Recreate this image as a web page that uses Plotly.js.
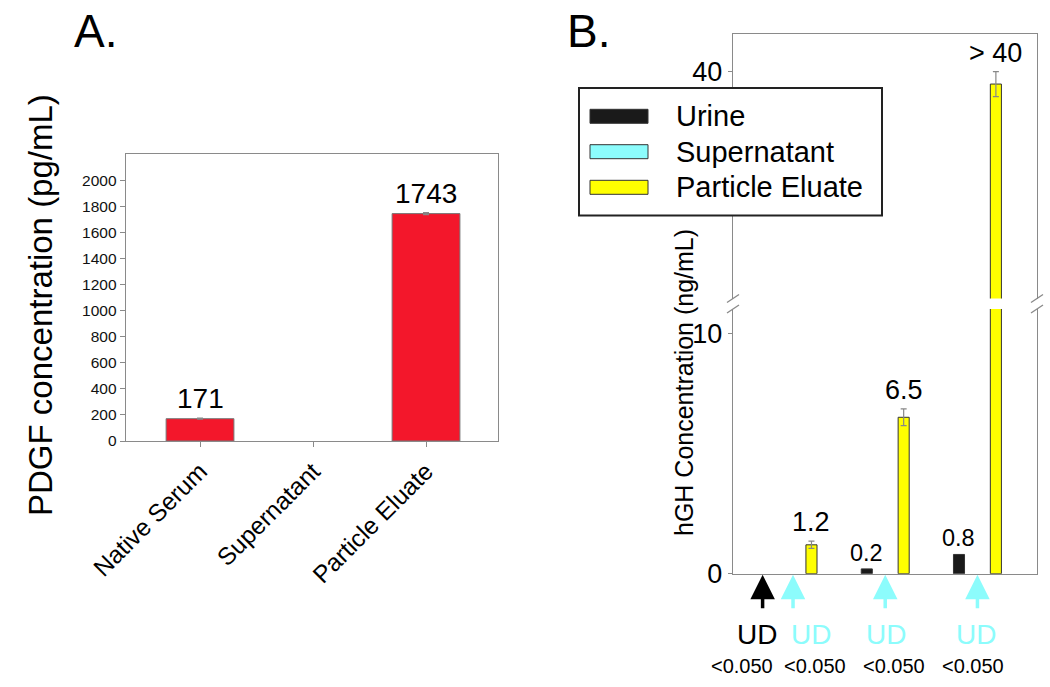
<!DOCTYPE html>
<html><head><meta charset="utf-8">
<script src="https://cdn.plot.ly/plotly-3.0.1.min.js"></script>
<style>body{margin:0;background:#fff}#c{width:1050px;height:687px}</style>
</head><body><div id="c"></div>
<script>
// ---- Panel A data ----
const catsA = ['Native Serum', 'Supernatant', 'Particle Eluate'];
const pdgf = [171, null, 1743];
const pdgfErr = [4, 0, 8];
const pdgfLabels = ['171', '', '1743'];
const ticksA = [0, 200, 400, 600, 800, 1000, 1200, 1400, 1600, 1800, 2000];

// ---- Panel B data ----
const groupsB = [1, 2, 3];
const seriesNames = ['Urine', 'Supernatant', 'Particle Eluate'];
const seriesColors = ['#1a1a1a', '#8cfcfc', '#ffff00'];
const urine = [null, 0.2, 0.8];       // UD in group 1
const supern = [null, null, null];    // UD in all groups
const eluate = [1.2, 6.5, 38.5];
const eluateErr = [0.15, 0.35, 1.5];
const urineLabels = ['', '0.2', '0.8'];
const eluateLabels = ['1.2', '6.5', '> 40'];
const udLabels = ['UD', 'UD', 'UD', 'UD'];
const udColors = ['#000000', '#8cfcfc', '#8cfcfc', '#8cfcfc'];
const udX = [0.61, 1.19, 2.01, 2.985];
const limitLabels = ['<0.050', '<0.050', '<0.050', '<0.050'];
const limitX = [0.45, 1.24, 2.1, 2.95];
const arrowX = [0.67, 1, 2, 3];
const arrowColors = ['#000000', '#8cfcfc', '#8cfcfc', '#8cfcfc'];

const W = 1050, H = 687;
const px = x => x / W, py = y => 1 - y / H;
const FONT = 'Liberation Sans, Arial, sans-serif';
const axisGray = '#8a8a8a';

const traces = [];
traces.push({
  type: 'bar', x: catsA, y: pdgf, width: 0.6, xaxis: 'x', yaxis: 'y',
  marker: {color: '#f3172b', line: {color: '#777', width: 1}},
  error_y: {type: 'data', array: pdgfErr, color: '#888', thickness: 1.2, width: 3},
  showlegend: false, hoverinfo: 'skip'
});
const bSeries = [urine, supern, eluate];
const bErr = [null, null, eluateErr];
['y2', 'y3'].forEach((ya, k) => {
  bSeries.forEach((vals, i) => {
    traces.push({
      type: 'bar', x: groupsB, y: vals, xaxis: k === 0 ? 'x2' : 'x3', yaxis: ya,
      name: seriesNames[i],
      marker: {color: seriesColors[i], line: {color: '#333', width: 1}},
      error_y: bErr[i] ? {type: 'data', array: bErr[i], color: '#888', thickness: 1.2, width: 3} : {visible: false},
      showlegend: false, hoverinfo: 'skip'
    });
  });
});

const ann = (o) => Object.assign({showarrow: false, xanchor: 'center', yanchor: 'middle'}, o);
const annotations = [];
annotations.push(ann({text: 'A.', x: px(95), y: py(31), xref: 'paper', yref: 'paper', font: {size: 46, color: '#000', family: FONT}}));
annotations.push(ann({text: 'B.', x: px(588), y: py(31), xref: 'paper', yref: 'paper', font: {size: 46, color: '#000', family: FONT}}));
annotations.push(ann({text: 'PDGF concentration (pg/mL)', textangle: -90, x: px(40), y: py(305), xref: 'paper', yref: 'paper', font: {size: 33, color: '#000', family: FONT}}));
annotations.push(ann({text: 'hGH Concentration (ng/mL)', textangle: -90, x: px(684), y: py(383), xref: 'paper', yref: 'paper', font: {size: 25, color: '#000', family: FONT}}));

catsA.forEach((c, i) => {
  if (!pdgfLabels[i]) return;
  annotations.push(ann({text: pdgfLabels[i], x: c, y: pdgf[i] + pdgfErr[i], xref: 'x', yref: 'y', yanchor: 'bottom', yshift: 2, font: {size: 28, color: '#000', family: FONT}}));
});
const offs = [-0.2, 0, 0.2];
groupsB.forEach((g, i) => {
  if (urineLabels[i]) annotations.push(ann({text: urineLabels[i], x: g + offs[0], y: urine[i], xref: 'x2', yref: 'y2', yanchor: 'bottom', yshift: 1, font: {size: 23.5, color: '#000', family: FONT}}));
  const big = eluate[i] > 11;
  annotations.push(ann({text: eluateLabels[i], x: g + offs[2], y: eluate[i] + eluateErr[i], xref: big ? 'x3' : 'x2', yref: big ? 'y3' : 'y2', yanchor: 'bottom', yshift: 2, font: {size: 27, color: '#000', family: FONT}}));
});
arrowX.forEach((x, i) => {
  annotations.push({text: '', x: x, y: 0, xref: 'x2', yref: 'y2', ax: 0, ay: 36, showarrow: true, arrowhead: 2, arrowsize: 1.4, arrowwidth: 3.5, arrowcolor: arrowColors[i], standoff: 1});
});
udLabels.forEach((t, i) => {
  annotations.push(ann({text: t, x: udX[i], y: py(634), xref: 'x2', yref: 'paper', font: {size: 28, color: udColors[i], family: FONT}}));
});
limitLabels.forEach((t, i) => {
  annotations.push(ann({text: t, x: limitX[i], y: py(666), xref: 'x2', yref: 'paper', font: {size: 20, color: '#000', family: FONT}}));
});

// custom legend
const shapes = [];
shapes.push({type: 'rect', xref: 'paper', yref: 'paper', x0: px(579), x1: px(882), y0: py(215.5), y1: py(88), fillcolor: '#fff', line: {color: '#222', width: 2}, layer: 'above'});
const rowY = [116.3, 151.7, 187.3];
seriesNames.forEach((n, i) => {
  shapes.push({type: 'rect', xref: 'paper', yref: 'paper', x0: px(590), x1: px(648), y0: py(rowY[i] + 7), y1: py(rowY[i] - 7), fillcolor: seriesColors[i], line: {color: '#333', width: 1}, layer: 'above'});
  annotations.push(ann({text: n, x: px(674), y: py(rowY[i]), xref: 'paper', yref: 'paper', xanchor: 'left', font: {size: 29, color: '#000', family: FONT}}));
});
// axis break marks
[733, 1037].forEach(x => {
  [298.5, 309].forEach(y => {
    shapes.push({type: 'line', xref: 'paper', yref: 'paper', x0: px(x - 6), y0: py(y + 4), x1: px(x + 6), y1: py(y - 4), line: {color: axisGray, width: 1.3}, layer: 'above'});
  });
});

const layout = {
  width: W, height: H, margin: {l: 0, r: 0, t: 0, b: 0},
  paper_bgcolor: '#fff', plot_bgcolor: '#fff',
  font: {family: FONT, color: '#000'},
  barmode: 'group', bargap: 0.4, bargroupgap: 0.4, showlegend: false,
  xaxis: {domain: [px(126), px(498)], anchor: 'y', type: 'category', range: [-0.655, 2.637],
    showline: true, linecolor: axisGray, linewidth: 1.3, mirror: true,
    ticks: 'outside', ticklen: 5, tickcolor: axisGray, tickangle: -45, tickfont: {size: 24.5, color: '#000'}, showgrid: false, zeroline: false},
  yaxis: {domain: [py(441), py(154)], anchor: 'x', range: [0, 2200], tickvals: ticksA,
    showline: true, linecolor: axisGray, linewidth: 1.3, mirror: true,
    ticks: 'outside', ticklen: 5, tickcolor: axisGray, tickfont: {size: 15.5, color: '#111'}, showgrid: false, zeroline: false},
  xaxis2: {domain: [px(733), px(1037)], anchor: 'y2', range: [0.349, 3.646],
    showline: true, linecolor: axisGray, linewidth: 1.3, showticklabels: false, ticks: '', showgrid: false, zeroline: false},
  yaxis2: {domain: [py(573.7), py(309)], anchor: 'x2', range: [0, 11], tickvals: [0, 10],
    showline: true, linecolor: axisGray, linewidth: 1.3, mirror: true,
    ticks: 'outside', ticklen: 4, tickcolor: axisGray, tickfont: {size: 27, color: '#000'}, showgrid: false, zeroline: false},
  xaxis3: {domain: [px(733), px(1037)], anchor: 'y3', side: 'top', matches: 'x2', range: [0.349, 3.646],
    showline: true, linecolor: axisGray, linewidth: 1.3, showticklabels: false, ticks: '', showgrid: false, zeroline: false},
  yaxis3: {domain: [py(298.5), py(34)], anchor: 'x3', range: [12.8, 44.5], tickvals: [40],
    showline: true, linecolor: axisGray, linewidth: 1.3, mirror: true,
    ticks: 'outside', ticklen: 4, tickcolor: axisGray, tickfont: {size: 27, color: '#000'}, showgrid: false, zeroline: false},
  annotations: annotations, shapes: shapes
};
Plotly.newPlot('c', traces, layout, {displayModeBar: false, staticPlot: true});
</script></body></html>
